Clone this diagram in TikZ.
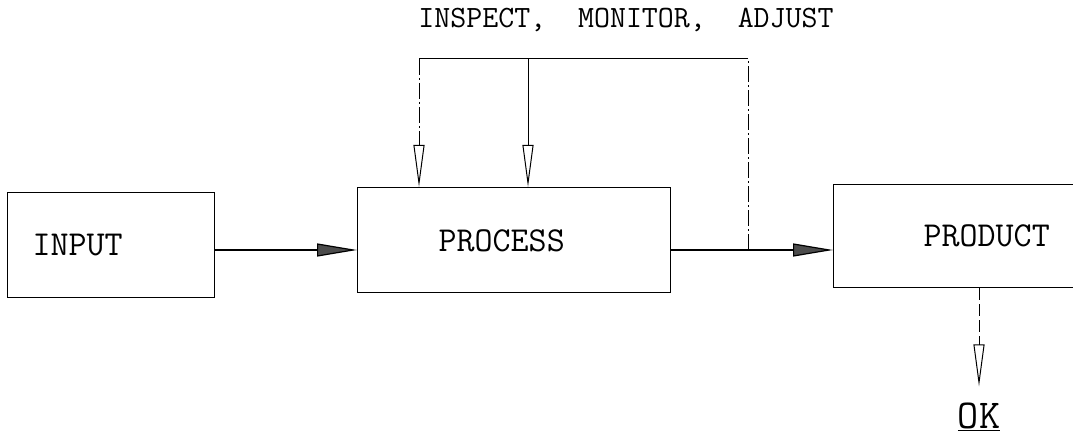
\documentclass[tikz,border=0pt]{standalone}
\usepackage{fontspec}
\usepackage{tikz}
\usetikzlibrary{arrows.meta}

\begin{document}
\begin{tikzpicture}[x=1pt, y=-1pt, line width=1.2pt,
	font=\ttfamily\fontsize{35}{40}\selectfont,
	block/.style={draw, align=left, minimum height=105pt, inner ysep=0pt},
	flowarrow/.style={-{Triangle[length=40pt, width=13pt, fill=black!70]}},
	checkarrow/.style={line width=1pt, -{Triangle[open, length=42pt, width=11pt]}},
	chainline/.style={line width=1pt, dash pattern=on 16pt off 3pt on 2pt off 3pt}]
					\clip (0,0) rectangle (1073,438);
					\node[block, anchor=north west, text width=157pt, inner xsep=25pt] (input) at (7,192) {INPUT};
					\node[block, anchor=north west, text width=151pt, inner xsep=81pt, text depth=-8pt] (process) at (357,187) {PROCESS};
					\node[block, anchor=north west, text width=130pt, inner xsep=90pt, minimum height=103pt] (product) at (833,184) {PRODUCT};
					\node[font=\ttfamily\fontsize{31}{36}\selectfont] (task) at (626,20) {INSPECT,~~MONITOR,~~ADJUST};
					\node[inner sep=0pt, font=\ttfamily\fontsize{41}{46}\selectfont] (ok) at (979,417) {\underline{OK}};
					\coordinate (flow) at (0,250); \coordinate (tap) at (748,250);
					\coordinate (tr) at (748,59); \coordinate (tm) at (528,59); \coordinate (tl) at (419,59);
					\draw[flowarrow] (input.east |- flow) -- (process.west |- flow);
					\draw[flowarrow] (process.east |- flow) -- (product.west |- flow);
					\draw[chainline] (tap) -- (tr);
					\draw[line width=1pt] (tr) -- (tl);
					\draw[checkarrow, chainline] (tl) -- (tl |- process.north);
					\draw[checkarrow] (tm) -- (tm |- process.north);
					\draw[checkarrow, dash pattern=on 12pt off 4pt] (product.south -| ok) -- ([yshift=16pt]ok.north);
				\end{tikzpicture}
\end{document}
